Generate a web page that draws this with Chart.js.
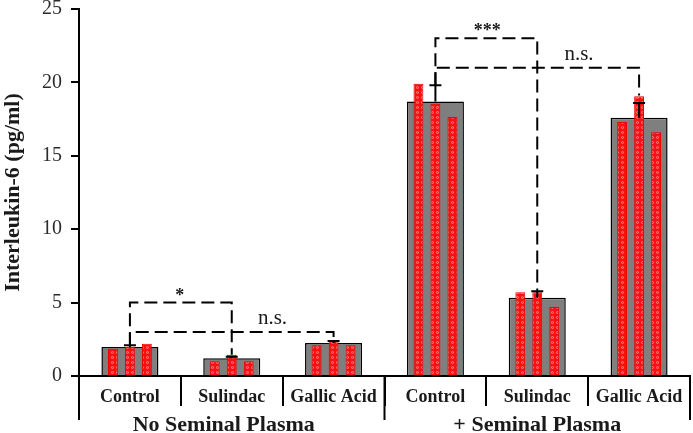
<!DOCTYPE html>
<html>
<head>
<meta charset="utf-8">
<script src="https://cdn.jsdelivr.net/npm/chart.js@4/dist/chart.umd.min.js"></script>
<style>
  html, body { margin: 0; padding: 0; background: #fff; }
  #wrap { width: 693px; height: 433px; }
</style>
</head>
<body>
<div id="wrap"><canvas id="il6_chart" width="693" height="433"></canvas></div>
<script>
// categories + groups
var categories = ['Control', 'Sulindac', 'Gallic Acid', 'Control', 'Sulindac', 'Gallic Acid'];
var groups = ['No Seminal Plasma', '+ Seminal Plasma'];
var groupCenters = [1, 4];
var groupEdges = [-0.5, 2.5, 5.5];

// mean IL-6 (pg/ml) and error
var means = [1.97, 1.21, 2.24, 18.7, 5.33, 17.6];
var errs = [0.12, 0.1, 0.15, 1.1, 0.45, 1.0];

// the three replicates per condition
var rep1 = [1.85, 1.0, 2.1, 19.9, 5.7, 17.3];
var rep2 = [2.0, 1.45, 2.45, 18.55, 5.7, 19.05];
var rep3 = [2.2, 1.0, 2.1, 17.65, 4.7, 16.6];

var yTicks = [0, 5, 10, 15, 20, 25];

// significance brackets
var brFrom = [0, 0, 3, 3];
var brTo = [1, 2, 4, 5];
var brY = [5.0, 3.0, 23.0, 21.0];
var brLeftEnd = [2.1, 2.1, 19.8, 19.8];
var brRightEnd = [1.45, 2.45, 5.8, 19.1];
var brText = ['*', 'n.s.', '***', 'n.s.'];
var brTextX = [0.49, 1.4, 3.51, 4.41];

var serif = "'Liberation Serif', 'Times New Roman', serif";
var ctx = document.getElementById('il6_chart').getContext('2d');

// own bar type for the grey mean bars, so they are not grouped with the red ones
class GreyBar extends Chart.BarController {}
GreyBar.id = 'greyBar';
GreyBar.defaults = Chart.BarController.defaults;
Chart.register(GreyBar);

function makeHatch() {
    var c = document.createElement('canvas');
    c.width = 5;
    c.height = 5;
    var g = c.getContext('2d');
    g.fillStyle = '#fa1010';
    g.fillRect(0, 0, 5, 5);
    g.fillStyle = '#fb8c8c';
    g.beginPath();
    g.arc(2.5, 2.5, 1.3, 0, Math.PI * 2);
    g.fill();
    g.fillStyle = '#fa1010';
    g.beginPath();
    g.arc(2.5, 2.5, 0.55, 0, Math.PI * 2);
    g.fill();
    return ctx.createPattern(c, 'repeat');
}
var hatch = makeHatch();

function redSet(vals) {
    return {
        type: 'bar',
        data: vals,
        backgroundColor: hatch,
        borderColor: '#ee0000',
        borderWidth: 1,
        categoryPercentage: 0.5,
        barPercentage: 0.58,
        order: 1
    };
}

var extras = {
    id: 'extras',
    afterDatasetsDraw: function (chart) {
        var x = chart.scales.x;
        var y = chart.scales.y;
        var c = chart.ctx;
        c.save();

        // error bars (up only)
        c.strokeStyle = '#000';
        c.lineWidth = 2;
        for (var i = 0; i < means.length; i++) {
            var px = x.getPixelForValue(i);
            var y0 = y.getPixelForValue(means[i]);
            var y1 = y.getPixelForValue(means[i] + errs[i]);
            c.beginPath();
            c.moveTo(px, y0);
            c.lineTo(px, y1);
            c.moveTo(px - 6, y1);
            c.lineTo(px + 6, y1);
            c.stroke();
        }

        // longer separators under group edges
        var bottom = chart.chartArea.bottom;
        c.lineWidth = 2;
        for (var k = 0; k < groupEdges.length; k++) {
            var ex = x.getPixelForValue(groupEdges[k]);
            c.beginPath();
            c.moveTo(ex, bottom);
            c.lineTo(ex, bottom + 44);
            c.stroke();
        }

        // group labels
        c.fillStyle = '#1a1a1a';
        c.font = 'bold 22px ' + serif;
        c.textAlign = 'center';
        c.textBaseline = 'middle';
        for (var g = 0; g < groups.length; g++) {
            c.fillText(groups[g], x.getPixelForValue(groupCenters[g]) - (g === 0 ? 8 : 0), bottom + 49);
        }

        // brackets
        c.setLineDash([13, 6]);
        c.lineWidth = 2;
        for (var b = 0; b < brY.length; b++) {
            var xa = x.getPixelForValue(brFrom[b]);
            var xb = x.getPixelForValue(brTo[b]);
            var yl = y.getPixelForValue(brY[b]);
            c.beginPath();
            c.moveTo(xa, y.getPixelForValue(brLeftEnd[b]));
            c.lineTo(xa, yl);
            c.lineTo(xb, yl);
            c.lineTo(xb, y.getPixelForValue(brRightEnd[b]));
            c.stroke();
        }
        c.setLineDash([]);
        for (var t = 0; t < brText.length; t++) {
            var tx = x.getPixelForValue(brTextX[t]);
            var ty = y.getPixelForValue(brY[t]);
            c.textBaseline = 'alphabetic';
            if (brText[t].charAt(0) === '*') {
                c.font = 'bold 18px ' + serif;
                c.fillText(brText[t], tx, ty - 2);
            } else {
                c.font = '21px ' + serif;
                c.fillText(brText[t], tx, ty - 8);
            }
        }
        c.restore();
    }
};

var config = {
    type: 'bar',
    data: {
        labels: categories,
        datasets: [
            redSet(rep1),
            redSet(rep2),
            redSet(rep3),
            {
                type: 'greyBar',
                data: means,
                backgroundColor: '#7f7f7f',
                borderColor: '#000',
                borderWidth: 1.5,
                categoryPercentage: 1,
                barPercentage: 0.56,
                order: 2
            }
        ]
    },
    options: {
        responsive: false,
        animation: false,
        layout: { padding: { top: 9, right: 3, left: 0, bottom: 0 } },
        plugins: {
            legend: { display: false },
            tooltip: { enabled: false }
        },
        scales: {
            x: {
                type: 'category',
                offset: true,
                grid: { offset: true, drawOnChartArea: false, tickLength: 30, color: '#000', lineWidth: 2 },
                border: { color: '#000', width: 2 },
                ticks: {
                    padding: -19,
                    autoSkip: false,
                    maxRotation: 0,
                    color: '#1a1a1a',
                    font: { family: serif, size: 18, weight: 'bold' }
                },
                afterFit: function (s) {
                    s.height = 57;
                    s.paddingLeft = 0;
                    s.paddingRight = 0;
                }
            },
            y: {
                min: 0,
                max: 25,
                afterBuildTicks: function (s) { s.ticks = yTicks.map(function (v) { return { value: v }; }); },
                grid: { drawOnChartArea: false, tickLength: 8, color: '#000', lineWidth: 2 },
                border: { color: '#000', width: 2 },
                ticks: {
                    padding: 9,
                    color: '#2b2b2b',
                    font: { family: serif, size: 20 }
                },
                title: {
                    display: true,
                    text: 'Interleukin-6 (pg/ml)',
                    color: '#1a1a1a',
                    padding: 0,
                    font: { family: serif, size: 22, weight: 'bold' }
                },
                afterFit: function (s) {
                    s.width = 79;
                    s.paddingTop = 0;
                    s.paddingBottom = 0;
                }
            }
        }
    },
    plugins: [extras]
};

new Chart(ctx, config);
</script>
</body>
</html>
